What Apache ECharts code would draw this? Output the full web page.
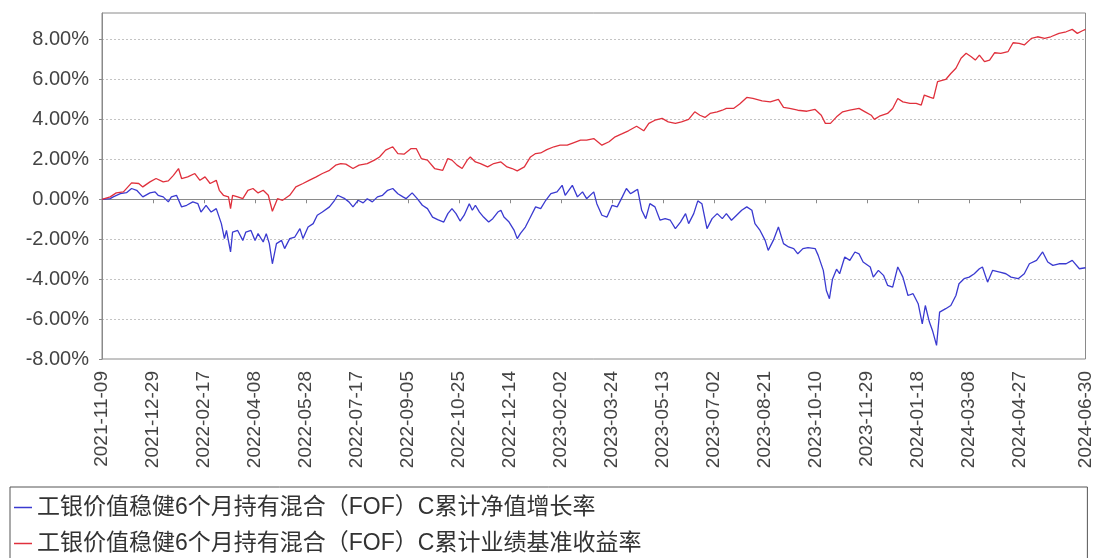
<!DOCTYPE html>
<html>
<head>
<meta charset="utf-8">
<script src="https://cdn.jsdelivr.net/npm/echarts@6/dist/echarts.min.js"></script>
<style>
  html, body { margin: 0; padding: 0; background: #fff; }
  #chart { width: 1095px; height: 558px; }
</style>
</head>
<body>
<div id="chart"></div>
<script>
// x values are calendar days counted from 2021-11-09
const startDate = '2021-11-09';
const lastDay = 964; // 2024-06-30
const tickDays = [0, 50, 100, 150, 200, 250, 300, 350, 400, 450, 500, 550, 600, 650, 700, 750, 800, 850, 900, 964];
const yTicks = [-8, -6, -4, -2, 0, 2, 4, 6, 8];

const navName = '工银价值稳健6个月持有混合（FOF）C累计净值增长率';
const benchName = '工银价值稳健6个月持有混合（FOF）C累计业绩基准收益率';

// 累计净值增长率 (%)
const navDays = [0,8,11,18,24,29,34,40,47,52,55,60,65,68,73,78,83,89,94,97,102,107,112,117,120,122,126,128,133,138,141,146,150,153,158,161,164,167,171,176,179,184,189,194,197,202,207,211,216,223,228,231,238,242,
  246,251,256,260,265,270,275,280,285,290,295,298,304,309,314,319,324,329,335,339,343,347,351,355,360,363,366,370,374,379,383,388,391,394,399,404,407,410,415,420,425,430,435,440,446,451,454,461,466,471,475,482,
  485,490,495,500,505,510,514,518,521,525,529,533,537,542,547,552,557,562,567,572,575,580,584,588,593,598,603,608,612,617,622,627,632,637,640,645,650,653,658,663,668,673,678,682,687,692,699,702,707,710,713,716,
  720,723,728,733,738,742,746,753,756,761,766,770,775,780,785,790,795,800,804,807,811,814,818,821,827,832,837,840,845,850,855,860,863,868,873,880,886,891,898,904,909,916,922,927,932,938,945,951,958,964];
const navValues = [0,0.03,0.12,0.28,0.33,0.54,0.45,0.12,0.32,0.37,0.2,0.12,-0.13,0.12,0.2,-0.38,-0.3,-0.13,-0.22,-0.64,-0.3,-0.64,-0.47,-1.22,-1.97,-1.56,-2.64,-1.64,-1.56,-2.06,-1.64,-1.56,-2.06,-1.72,-2.14,-1.72,-2.22,-3.23,-2.22,-2.06,-2.47,-1.97,-1.89,-1.47,-1.97,-1.39,-1.22,-0.8,-0.64,-0.38,-0.05,0.2,0.03,-0.13,
  -0.38,-0.05,-0.18,0.03,-0.13,0.12,0.2,0.45,0.54,0.28,0.12,0.03,0.32,0.03,-0.3,-0.47,-0.89,-1.02,-1.14,-0.72,-0.47,-0.72,-1.09,-0.8,-0.22,-0.55,-0.3,-0.64,-0.89,-1.14,-0.97,-0.64,-0.55,-0.89,-1.14,-1.56,-1.97,-1.72,-1.39,-0.89,-0.38,-0.47,-0.05,0.28,0.37,0.7,0.2,0.7,0.12,0.37,0.03,0.37,
  -0.22,-0.8,-0.89,-0.3,-0.38,0.12,0.54,0.28,0.37,0.5,-0.55,-0.97,-0.22,-0.38,-1.05,-0.97,-1.05,-1.47,-1.14,-0.72,-1.22,-0.72,-0.08,-0.22,-1.47,-0.97,-0.72,-0.97,-0.72,-1.05,-0.8,-0.55,-0.38,-0.55,-1.22,-1.56,-2.06,-2.56,-2.06,-1.39,-2.22,-2.39,-2.47,-2.73,-2.47,-2.42,-2.47,-2.81,-3.56,-4.57,-4.98,-4.0,
  -3.5,-3.73,-2.89,-3.06,-2.64,-2.73,-3.14,-3.39,-3.9,-3.56,-3.81,-4.31,-4.4,-3.39,-3.9,-4.82,-4.73,-5.23,-6.24,-5.32,-6.15,-6.57,-7.32,-5.65,-5.48,-5.32,-4.82,-4.23,-3.98,-3.9,-3.73,-3.48,-3.39,-4.15,-3.56,-3.65,-3.73,-3.9,-3.98,-3.73,-3.23,-3.06,-2.64,-3.14,-3.31,-3.23,-3.23,-3.06,-3.48,-3.43];

// 累计业绩基准收益率 (%)
const benchDays = [0,8,14,21,29,36,40,47,53,60,65,70,75,78,84,91,96,101,106,112,115,119,124,126,128,133,138,143,148,153,158,163,167,172,177,184,190,197,203,210,216,223,229,234,239,
  246,252,260,267,272,278,285,290,296,303,308,313,319,326,334,339,343,348,353,358,361,366,371,378,384,391,397,402,407,414,420,425,430,436,443,449,456,462,469,475,482,
  490,497,503,510,516,524,531,536,542,549,555,562,568,575,581,586,591,596,603,608,612,619,625,632,638,647,655,663,668,674,682,691,699,705,709,714,720,
  726,733,742,748,754,757,762,770,775,780,785,792,798,803,806,812,815,819,827,832,837,842,847,852,856,860,865,870,875,881,888,893,899,904,911,917,924,930,938,945,951,956,961,964];
const benchValues = [0,0.12,0.32,0.37,0.82,0.79,0.62,0.87,1.04,0.87,0.92,1.2,1.54,1.04,1.12,1.29,0.95,1.12,0.79,0.95,0.45,0.2,0.12,-0.47,0.2,0.12,0.03,0.45,0.54,0.32,0.45,0.2,-0.6,0.03,-0.05,0.2,0.62,0.79,0.95,1.12,1.29,1.45,1.71,1.79,1.76,
  1.54,1.71,1.79,1.96,2.12,2.46,2.63,2.29,2.26,2.54,2.54,2.04,1.96,1.54,1.45,2.04,1.96,1.71,1.54,1.96,2.12,1.87,1.79,1.62,1.79,1.87,1.62,1.54,1.42,1.62,2.12,2.29,2.32,2.49,2.63,2.71,2.71,2.83,2.96,2.96,3.04,
  2.71,2.88,3.13,3.29,3.43,3.66,3.43,3.8,3.96,4.05,3.88,3.8,3.88,4.0,4.38,4.21,4.1,4.3,4.38,4.46,4.55,4.55,4.77,5.1,5.05,4.93,4.88,5.0,4.6,4.55,4.46,4.41,4.5,4.21,3.8,3.8,4.13,
  4.38,4.46,4.55,4.38,4.21,4.0,4.16,4.3,4.55,5.05,4.88,4.8,4.8,4.72,5.22,5.1,5.05,5.89,6.0,6.3,6.56,7.06,7.31,7.14,6.97,7.22,6.89,6.97,7.34,7.31,7.39,7.84,7.81,7.73,8.06,8.14,8.06,8.14,8.31,8.39,8.51,8.31,8.44,8.51];

const startMs = Date.parse(startDate + 'T00:00:00Z');
function dayLabel(d) {
  return new Date(startMs + d * 86400000).toISOString().slice(0, 10);
}
function zip(xs, ys) {
  return xs.map((x, i) => [x, ys[i]]);
}

const fontLatin = "'Liberation Sans', Arial, 'Noto Sans CJK SC', sans-serif";
const blue = '#3a3ad0';
const red = '#e0303c';

const chart = echarts.init(document.getElementById('chart'));
chart.setOption({
  animation: false,
  grid: {
    left: 102,
    right: 7,
    top: 13,
    bottom: 199,
    show: true,
    borderColor: '#8a8a8a',
    borderWidth: 1
  },
  legend: {
    orient: 'vertical',
    left: 10,
    top: 487,
    height: 120,
    padding: [9, 446, 30, 4],
    itemGap: 13,
    icon: 'rect',
    itemWidth: 18,
    itemHeight: 1.5,
    borderColor: '#555',
    borderWidth: 1,
    textStyle: { fontSize: 23, color: '#333', fontFamily: fontLatin },
    data: [navName, benchName]
  },
  xAxis: {
    type: 'value',
    min: 0,
    max: lastDay,
    offset: 6,
    axisLine: { lineStyle: { color: '#8a8a8a' } },
    axisTick: { customValues: tickDays, length: 4, lineStyle: { color: '#8a8a8a' } },
    splitLine: { show: false },
    axisLabel: {
      customValues: tickDays,
      rotate: 90,
      margin: 6,
      fontSize: 19,
      color: '#444',
      fontFamily: fontLatin,
      formatter: (v) => dayLabel(v)
    }
  },
  yAxis: {
    type: 'value',
    min: -8,
    max: 9.33,
    interval: 2,
    offset: 5,
    axisLine: { show: true, lineStyle: { color: '#8a8a8a' } },
    axisTick: { show: true, customValues: yTicks, length: 3, lineStyle: { color: '#8a8a8a' } },
    splitLine: { lineStyle: { color: '#c4c4c4', type: [2, 2] } },
    axisLabel: {
      customValues: yTicks,
      margin: 8,
      fontSize: 20,
      color: '#444',
      fontFamily: fontLatin,
      formatter: (v) => v.toFixed(2) + '%'
    }
  },
  series: [
    {
      name: navName,
      type: 'line',
      data: zip(navDays, navValues),
      showSymbol: false,
      symbol: 'none',
      lineStyle: { color: blue, width: 1.3 },
      itemStyle: { color: blue }
    },
    {
      name: benchName,
      type: 'line',
      data: zip(benchDays, benchValues),
      showSymbol: false,
      symbol: 'none',
      lineStyle: { color: red, width: 1.3 },
      itemStyle: { color: red }
    }
  ]
});
</script>
</body>
</html>
